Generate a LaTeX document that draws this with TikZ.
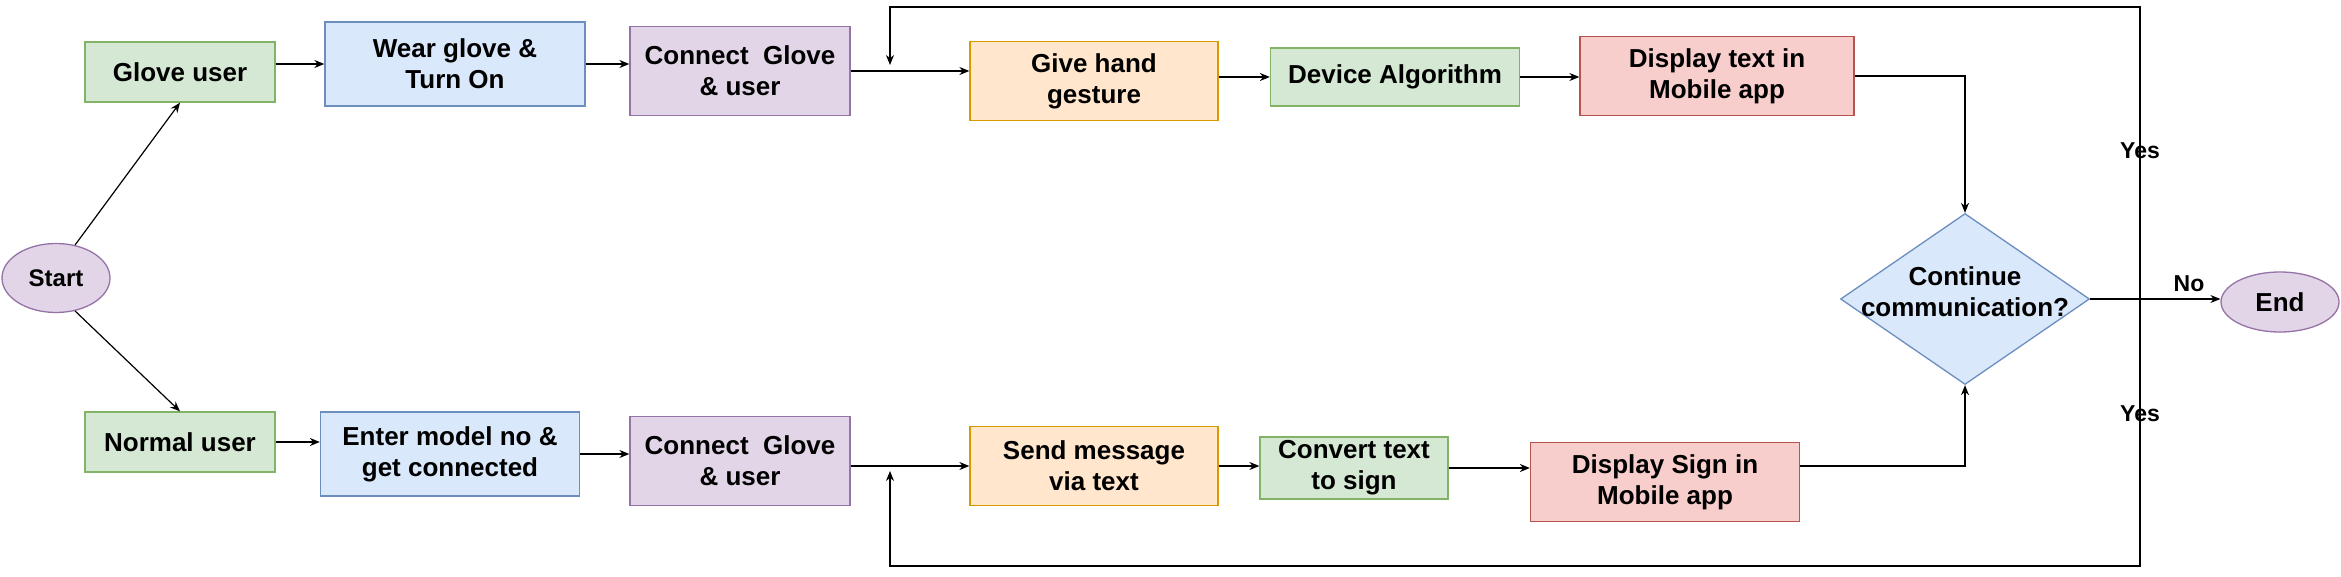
\documentclass[tikz,border=0pt]{standalone}
\usepackage{fontspec}
\setmainfont{Liberation Sans}
\usetikzlibrary{shapes.geometric,arrows.meta}
\definecolor{gfill}{HTML}{D5E8D4}\definecolor{gline}{HTML}{82B366}
\definecolor{bfill}{HTML}{DAE8FC}\definecolor{bline}{HTML}{6C8EBF}
\definecolor{pfill}{HTML}{E1D5E7}\definecolor{pline}{HTML}{9673A6}
\definecolor{ofill}{HTML}{FFE6CC}\definecolor{oline}{HTML}{D79B00}
\definecolor{rfill}{HTML}{F8CECC}\definecolor{rline}{HTML}{B85450}
\tikzset{
  box/.style={draw, line width=1.3pt, rectangle, align=center, inner sep=0pt,
    font=\fontsize{26}{31}\selectfont\bfseries},
  gbox/.style={box, fill=gfill, draw=gline},
  bbox/.style={box, fill=bfill, draw=bline},
  pbox/.style={box, fill=pfill, draw=pline},
  obox/.style={box, fill=ofill, draw=oline},
  rbox/.style={box, fill=rfill, draw=rline},
  arr/.style={line width=1.2pt, -{Stealth[length=10pt,width=8pt]}},
  lbl/.style={inner sep=0pt, font=\fontsize{23}{27}\selectfont\bfseries},
}
\begin{document}
\begin{tikzpicture}[x=1pt,y=-1pt]
\useasboundingbox[fill=white] (0,0) rectangle (2341,577);
% nodes
\node[ellipse, draw=pline, fill=pfill, line width=1.3pt, minimum width=108pt, minimum height=69pt, inner sep=0pt,
  font=\fontsize{24}{28}\selectfont\bfseries] (start) at (56,278) {Start};
\node[gbox, minimum width=190pt, minimum height=60pt] (glove) at (180,72) {Glove user};
\node[bbox, minimum width=260pt, minimum height=84pt] (wear) at (455,64) {Wear glove \&\\Turn On};
\node[pbox, minimum width=220pt, minimum height=89pt] (conn1) at (740,71) {Connect\ \ Glove\\\& user};
\node[obox, minimum width=248pt, minimum height=79pt] (give) at (1094,81) {Give hand\\gesture};
\node[gbox, minimum width=249pt, minimum height=58pt] (algo) at (1395,77) {Device Algorithm};
\node[rbox, minimum width=274pt, minimum height=79pt] (disp1) at (1717,76) {Display text in\\Mobile app};
\node[diamond, draw=bline, fill=bfill, line width=1.3pt, minimum width=249pt, minimum height=171pt, inner sep=0pt] (dia) at (1965,299) {};
\node[align=center, inner sep=0pt, font=\fontsize{26}{31}\selectfont\bfseries] (diatext) at (1965,292) {Continue\\communication?};
\node[ellipse, draw=pline, fill=pfill, line width=1.3pt, minimum width=118pt, minimum height=60pt, inner sep=0pt,
  font=\fontsize{26}{31}\selectfont\bfseries] (end) at (2280,302) {End};
\node[gbox, minimum width=190pt, minimum height=60pt] (normal) at (180,442) {Normal user};
\node[bbox, minimum width=259pt, minimum height=84pt] (enter) at (450,454) {Enter model no \&\\get connected};
\node[pbox, minimum width=220pt, minimum height=89pt] (conn2) at (740,461) {Connect\ \ Glove\\\& user};
\node[obox, minimum width=248pt, minimum height=79pt] (send) at (1094,466) {Send message\\via text};
\node[gbox, minimum width=188pt, minimum height=62pt] (conv) at (1354,468) {Convert text\\to sign};
\node[rbox, minimum width=269pt, minimum height=79pt] (disp2) at (1665,482) {Display Sign in\\Mobile app};
% loop coordinates
\coordinate (lpR) at (2140,299);
\coordinate (lpT) at (2140,7);
\coordinate (lpB) at (2140,566);
\coordinate (lpTL) at (890,7);
\coordinate (lpBL) at (890,566);
\coordinate (tip1) at (890,65);
\coordinate (tip2) at (890,471);
% connectors
\draw[arr] (start.60) -- (glove.south);
\draw[arr] (start.-60) -- (normal.north);
\draw[arr] (glove.east |- wear.west) -- (wear.west);
\draw[arr] (wear.east) -- (wear.east -| conn1.west);
\draw[arr] (conn1.east) -- (conn1.east -| give.west);
\draw[arr] (give.east |- algo.west) -- (algo.west);
\draw[arr] (algo.east) -- (algo.east -| disp1.west);
\draw[arr] (disp1.east) -| (dia.north);
\draw[arr] (normal.east) -- (normal.east -| enter.west);
\draw[arr] (enter.east) -- (enter.east -| conn2.west);
\draw[arr] (conn2.east |- send.west) -- (send.west);
\draw[arr] (send.east) -- (send.east -| conv.west);
\draw[arr] (conv.east) -- (conv.east -| disp2.west);
\draw[arr] (disp2.east |- send.east) -| (dia.south);
\draw[arr] (dia.east) -- (dia.east -| end.west);
\draw[arr] (lpR) -- (lpT) -- (lpTL) -- (tip1);
\draw[arr] (lpR) -- (lpB) -- (lpBL) -- (tip2);
% labels
\node[lbl] (yes1) at (2140,151) {Yes};
\node[lbl] (yes2) at (2140,414) {Yes};
\node[lbl] (no) at (2189,284) {No};
\end{tikzpicture}
\end{document}
